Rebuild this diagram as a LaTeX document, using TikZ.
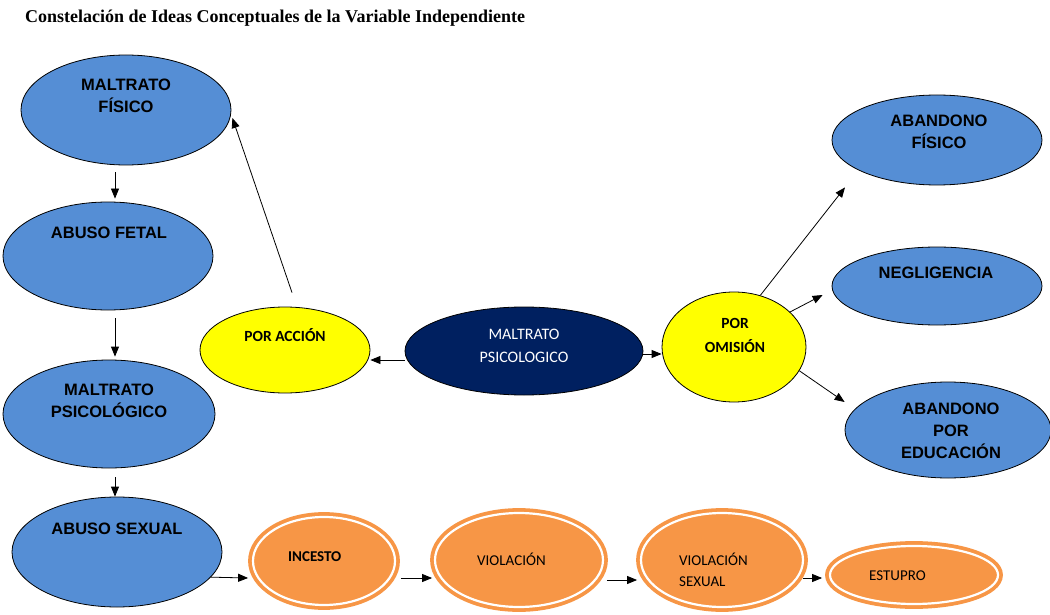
\documentclass[tikz,border=0pt]{standalone}
\usepackage{fontspec}
\usetikzlibrary{shapes.geometric,arrows.meta}
\newfontfamily\arialf{Liberation Sans}
\newfontfamily\calf{Carlito}
\newfontfamily\timesf{Liberation Serif}
\definecolor{blueC}{RGB}{85,142,213}
\definecolor{yelC}{RGB}{255,255,0}
\definecolor{navyC}{RGB}{0,32,96}
\definecolor{oraC}{RGB}{247,150,70}
\tikzset{
  ell/.style={ellipse,inner sep=0pt,line width=0.8pt,draw=black},
  blueell/.style={ell,fill=blueC},
  yelell/.style={ell,fill=yelC},
  navyell/.style={ell,fill=navyC},
  oraell/.style={ellipse,inner sep=0pt,fill=oraC,draw=oraC,line width=3.8pt,double=white,double distance=2.2pt},
  btxt/.style={align=center,font=\arialf\bfseries\fontsize{16.5}{22}\selectfont,inner sep=0pt},
  ytxt/.style={align=center,font=\calf\bfseries\fontsize{15.5}{24}\selectfont,inner sep=0pt},
  ntxt/.style={align=center,font=\calf\fontsize{16}{23}\selectfont,text=white,inner sep=0pt},
  otxt/.style={align=left,anchor=west,font=\calf\fontsize{15}{21}\selectfont,inner sep=0pt},
  arr/.style={-{Triangle[length=10pt,width=8pt]},line width=0.8pt}
}
\begin{document}
\begin{tikzpicture}[x=1pt,y=-1pt]
\useasboundingbox (0,0) rectangle (1050,615);
% title
\node[anchor=base west,inner sep=0pt,font=\timesf\bfseries\fontsize{18}{20}\selectfont] (title) at (25,23) {Constelación de Ideas Conceptuales de la Variable Independiente};
% left column
\node[blueell,minimum width=210pt,minimum height=110pt] (mf) at (126,110) {};
\node[btxt] (mft) at (126,96) {MALTRATO\\FÍSICO};
\node[blueell,minimum width=210pt,minimum height=108pt] (af) at (108,256) {};
\node[btxt] (aft) at (109,233) {ABUSO FETAL};
\node[blueell,minimum width=212pt,minimum height=108pt] (mp) at (109,414) {};
\node[btxt] (mpt) at (109,401) {MALTRATO\\PSICOLÓGICO};
\node[blueell,minimum width=210pt,minimum height=110pt] (as) at (117,552) {};
\node[btxt] (ast) at (117,529) {ABUSO SEXUAL};
% centre
\node[yelell,minimum width=170pt,minimum height=86pt] (pa) at (285,350) {};
\node[ytxt] (pat) at (285,335) {POR ACCIÓN};
\node[navyell,minimum width=238pt,minimum height=88pt] (dk) at (524,351) {};
\node[ntxt] (dkt) at (524,346) {MALTRATO\\PSICOLOGICO};
\node[yelell,minimum width=144pt,minimum height=110pt] (po) at (734,347) {};
\node[ytxt] (pot) at (735,335) {POR\\OMISIÓN};
% right column
\node[blueell,minimum width=210pt,minimum height=90pt] (abf) at (937,140) {};
\node[btxt] (abft) at (939,132) {ABANDONO\\FÍSICO};
\node[blueell,minimum width=210pt,minimum height=78pt] (neg) at (937,286) {};
\node[btxt] (negt) at (936,273) {NEGLIGENCIA};
\node[blueell,minimum width=206pt,minimum height=96pt] (ape) at (948,430) {};
\node[btxt] (apet) at (951,431) {ABANDONO\\POR\\EDUCACIÓN};
% bottom row
\node[oraell,minimum width=142pt,minimum height=88pt] (inc) at (324,561) {};
\node[otxt,font=\calf\bfseries\fontsize{15}{21}\selectfont] (inct) at (288,557) {INCESTO};
\node[oraell,minimum width=168pt,minimum height=94pt] (vio) at (519,560) {};
\node[otxt] (viot) at (477,559) {VIOLACIÓN};
\node[oraell,minimum width=162pt,minimum height=94pt] (vs) at (722,560) {};
\node[otxt] (vst) at (679,570) {VIOLACIÓN\\SEXUAL};
\node[oraell,minimum width=168pt,minimum height=58pt] (est) at (914,575) {};
\node[otxt] (estt) at (869,576) {ESTUPRO};
% arrows
\draw[arr] ([xshift=-11pt,yshift=-7pt]mf.south) -- ([xshift=7pt,yshift=3pt]af.north);
\draw[arr] ([xshift=7pt,yshift=-8pt]af.south) -- ([xshift=6pt,yshift=3pt]mp.north);
\draw[arr] ([xshift=6pt,yshift=-9pt]mp.south) -- ([xshift=-2pt]as.north);
\draw[arr] ([xshift=7pt,yshift=14pt]pa.north) -- ([xshift=1pt,yshift=-8pt]mf.east);
\draw[arr] ([yshift=-9pt]dk.west) -- ([yshift=-10pt]pa.east);
\draw[arr] ([yshift=-3pt]dk.east) -- ([yshift=-7pt]po.west);
\draw[arr] (po.63) -- ([xshift=-92pt,yshift=-2pt]abf.south);
\draw[arr] (po.32) -- ([xshift=-9pt,yshift=-9pt]neg.west);
\draw[arr] (po.-20) -- ([yshift=28pt]ape.west);
\draw[arr] (as.-15) -- ([xshift=-3pt,yshift=-17pt]inc.west);
\draw[arr] ([xshift=4pt,yshift=-17pt]inc.east) -- ([xshift=-1pt,yshift=-18pt]vio.west);
\draw[arr] ([xshift=2pt,yshift=-20pt]vio.east) -- ([xshift=-2pt,yshift=-20pt]vs.west);
\draw[arr] ([xshift=-2pt,yshift=-18pt]vs.east) -- ([xshift=-6pt,yshift=-3pt]est.west);
\end{tikzpicture}
\end{document}
